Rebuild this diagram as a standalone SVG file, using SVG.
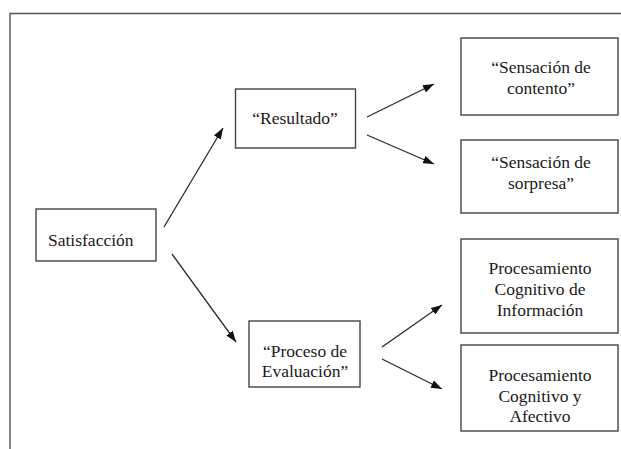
<svg xmlns="http://www.w3.org/2000/svg" width="621" height="449" viewBox="0 0 621 449">
<style>
.box{fill:#fff;stroke:#444;stroke-width:1.4}
text{font-family:'Liberation Serif','Times New Roman','DejaVu Serif',serif;font-size:17.5px;fill:#1a1a1a;text-anchor:middle}
.c{stroke:#2a2a2a;stroke-width:1.3;fill:none;marker-end:url(#ah)}
.frame{stroke:#555;stroke-width:1.4;fill:none}
</style>
<defs>
<marker id="ah" markerUnits="userSpaceOnUse" markerWidth="11" markerHeight="8" refX="11" refY="4" orient="auto">
<path d="M0,0 L11,4 L0,8 z" fill="#111"/>
</marker>
</defs>
<rect width="621" height="449" fill="#fff"/>
<path class="frame" d="M10,449 V13.5 H621"/>
<g id="satisfaccion" font-family="Liberation Serif, serif">
<rect class="box" x="36" y="209" width="120" height="52"/>
<text x="48" y="246" text-anchor="start" style="text-anchor:start">Satisfacción</text>
</g>
<g id="resultado" font-family="Liberation Serif, serif">
<rect class="box" x="235.5" y="89" width="120" height="59"/>
<text x="295" y="124">“Resultado”</text>
</g>
<g id="contento" font-family="Liberation Serif, serif">
<rect class="box" x="461" y="38" width="157" height="77"/>
<text x="541" y="73">“Sensación de</text>
<text x="541" y="94">contento”</text>
</g>
<g id="sorpresa" font-family="Liberation Serif, serif">
<rect class="box" x="461" y="140" width="157" height="73"/>
<text x="541" y="168">“Sensación de</text>
<text x="541" y="189">sorpresa”</text>
</g>
<g id="proceso" font-family="Liberation Serif, serif">
<rect class="box" x="249" y="321" width="111" height="66"/>
<text x="305" y="357">“Proceso de</text>
<text x="305" y="377">Evaluación”</text>
</g>
<g id="informacion" font-family="Liberation Serif, serif">
<rect class="box" x="461" y="239" width="157" height="94"/>
<text x="540" y="274">Procesamiento</text>
<text x="540" y="295">Cognitivo de</text>
<text x="540" y="316">Información</text>
</g>
<g id="afectivo" font-family="Liberation Serif, serif">
<rect class="box" x="461" y="345" width="157" height="86"/>
<text x="540" y="381">Procesamiento</text>
<text x="540" y="402">Cognitivo y</text>
<text x="540" y="422">Afectivo</text>
</g>
<g id="connectors">
<line class="c" x1="164" y1="227" x2="223" y2="128"/>
<line class="c" x1="172" y1="254" x2="236" y2="342"/>
<line class="c" x1="367" y1="117" x2="434" y2="84"/>
<line class="c" x1="367" y1="135" x2="434" y2="164"/>
<line class="c" x1="382" y1="347" x2="442" y2="305"/>
<line class="c" x1="382" y1="359" x2="442" y2="389"/>
</g>
</svg>
